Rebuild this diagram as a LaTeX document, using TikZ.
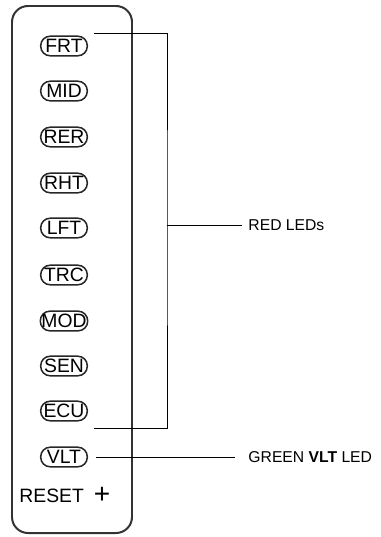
\documentclass[tikz,border=0pt]{standalone}
\usepackage{fontspec}
\setmainfont{Liberation Sans}
\usetikzlibrary{positioning}

\tikzset{
  led/.style={draw=black!85, line width=1.3pt, rounded corners=0.29cm,
    minimum width=1.4cm, minimum height=0.59cm, inner sep=1pt,
    font=\fontsize{16.5}{18}\selectfont},
  callout/.style={font=\fontsize{13.4}{15}\selectfont, anchor=west, inner sep=0pt},
}

\begin{document}
\begin{tikzpicture}[x=0.03cm, y=-0.03cm, line width=0.8pt]

\useasboundingbox (0,0) rectangle (380,537);

% panel
\draw[draw=black!80, line width=1.7pt, rounded corners=0.48cm] (12,6) rectangle (132,533);

\node[led] (frt) at (64,46) {FRT};
\node[led] (mid) at (64,91) {MID};
\node[led] (rer) at (64,137) {RER};
\node[led] (rht) at (64,183) {RHT};
\node[led] (lft) at (64,228) {LFT};
\node[led] (trc) at (64,275) {TRC};
\node[led] (mod) at (64,321) {MOD};
\node[led] (sen) at (64,366) {SEN};
\node[led] (ecu) at (64,411) {ECU};
\node[led] (vlt) at (64,457) {VLT};

\node[font=\fontsize{16.5}{18}\selectfont, anchor=west, inner sep=0pt] (reset) at (19,495)
  {RESET\hspace{0.3cm}{\fontsize{24}{24}\selectfont\raisebox{-0.4pt}{+}}};

\node[callout] (red) at (248,225) {RED LEDs};
\node[callout] (green) at (248,457) {GREEN \textbf{VLT} LED};

% bracket
\coordinate (btop) at (94,33);
\coordinate (bbot) at (94,428);
\coordinate (bmid) at (167,225);
\draw (btop) -| (bmid) |- (bbot);
\draw[shorten >=0.18cm] (bmid) -- (red.west);

\draw[shorten <=0.24cm, shorten >=0.39cm] (vlt.east) -- (green.west);

\end{tikzpicture}
\end{document}
